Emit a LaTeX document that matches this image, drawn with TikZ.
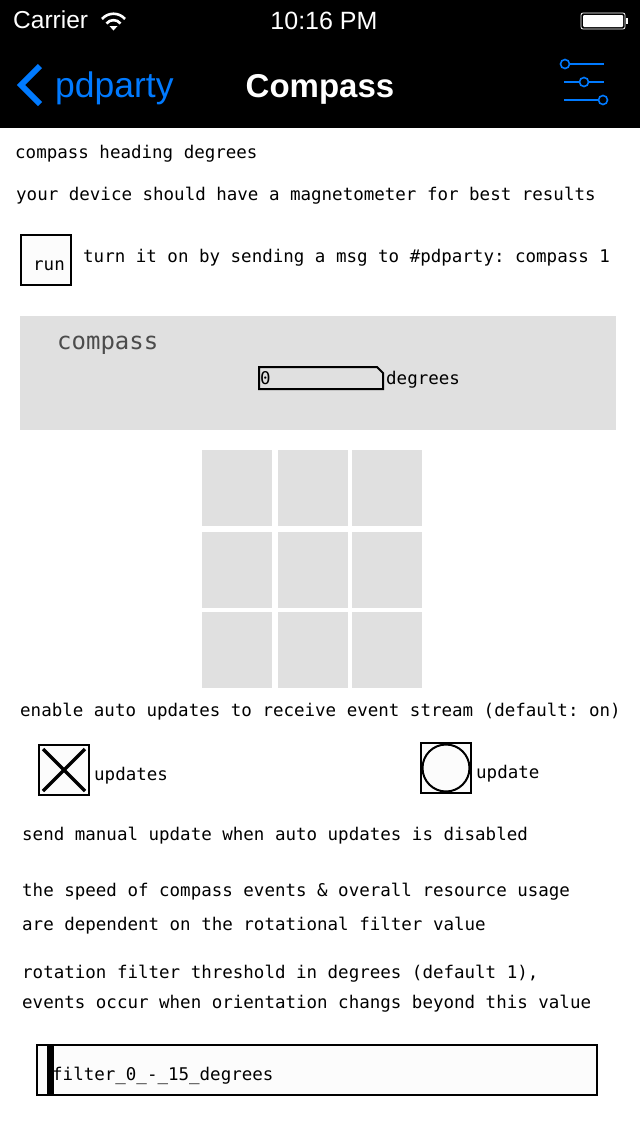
\documentclass[tikz,border=0pt]{standalone}
\usepackage{fontspec}
\setmainfont{Liberation Sans}
\newfontfamily\patchfont{DejaVu Sans Mono}
\frenchspacing
\definecolor{iosblue}{HTML}{007AFF}
\definecolor{cnvgrey}{HTML}{E0E0E0}
\definecolor{boxfill}{HTML}{FCFCFC}
\tikzset{
  patchtext/.style={anchor=base west,inner sep=0pt,font=\patchfont\fontsize{17.5}{20}\selectfont,text=black},
  gridcell/.style={fill=cnvgrey},
  guibox/.style={draw=black,line width=2pt,fill=boxfill},
  slidericon/.style={draw=iosblue,line width=1.6pt}
}
\begin{document}
\begin{tikzpicture}[x=1pt,y=-1pt]
  \useasboundingbox (0,0) rectangle (640,1136);
  \fill[white] (0,0) rectangle (640,1136);
  % navigation bar
  \fill[black] (0,0) rectangle (640,128);
  \node (carrier) at (13,28) [anchor=base west,inner sep=0pt,text=white,font=\fontsize{24.5}{26}\selectfont] {Carrier};
  \node (clock) at (324,29) [anchor=base,inner sep=0pt,text=white,font=\fontsize{25}{27}\selectfont] {10:16 PM};
  \draw[white,line width=2.6pt] (102,19) .. controls (108,12) and (119,12) .. (125,19);
  \draw[white,line width=2.6pt] (106.5,23.5) .. controls (110,19) and (117,19) .. (120.5,23.5);
  \fill[white] (109.5,26) -- (117.5,26) -- (113.5,30.5) -- cycle;
  \draw[white,line width=0.8pt,rounded corners=2pt] (581,13) rectangle (625,29);
  \fill[white,rounded corners=1pt] (583,15) rectangle (623,27);
  \fill[white] (626,18) rectangle (628,24);
  \draw[iosblue,line width=6pt] (40,66) -- (21,85) -- (40,104);
  \node (back) at (55,97) [anchor=base west,inner sep=0pt,text=iosblue,font=\fontsize{35.5}{38}\selectfont] {pdparty};
  \node (title) at (320,97) [anchor=base,inner sep=0pt,text=white,font=\bfseries\fontsize{33}{36}\selectfont] {Compass};
  \draw[slidericon] (570,64) -- (604,64);
  \draw[slidericon] (565,64) circle (4.5);
  \draw[slidericon] (564,82) -- (579,82) (589,82) -- (604,82);
  \draw[slidericon] (584,82) circle (4.5);
  \draw[slidericon] (564,100) -- (598,100);
  \draw[slidericon] (603,100) circle (4.5);
  % intro comments
  \node (heading) at (15,158) [patchtext] {compass heading degrees};
  \node (magnet) at (16,200) [patchtext] {your device should have a magnetometer for best results};
  \node (runbox) at (46,260) [guibox,minimum size=50pt,inner sep=0pt] {};
  \node (runlabel) at (33,270) [patchtext] {run};
  \node (turnon) at (83,262) [patchtext] {turn it on by sending a msg to \#pdparty: compass 1};
  % compass canvas
  \fill[cnvgrey] (20,316) rectangle (616,430);
  \node (canvaslabel) at (57,349) [patchtext,text=black!70,font=\patchfont\fontsize{24}{26}\selectfont] {compass};
  \draw[guibox,fill=none] (259,367) -- (377,367) -- (383,373) -- (383,389) -- (259,389) -- cycle;
  \node (numvalue) at (260,384) [patchtext] {0};
  \node (numlabel) at (386,384) [patchtext] {degrees};
  % grid
  \foreach \cx/\cw in {202/70,278/70,352/70}
    \foreach \cy/\ch in {450/76,532/76,612/76}
      \fill[gridcell] (\cx,\cy) rectangle ++(\cw,\ch);
  % updates
  \node (autoupd) at (20,716) [patchtext] {enable auto updates to receive event stream (default: on)};
  \node (togglebox) at (64,770) [guibox,minimum size=50pt,inner sep=0pt] {};
  \draw[black,line width=3.5pt] (43,749) -- (85,791) (85,749) -- (43,791);
  \node (togglelabel) at (94,780) [patchtext] {updates};
  \node (bangbox) at (446,768) [guibox,minimum size=50pt,inner sep=0pt] {};
  \draw[black,line width=2pt] (446,768) circle (23.5);
  \node (banglabel) at (476,778) [patchtext] {update};
  \node (manual) at (22,840) [patchtext] {send manual update when auto updates is disabled};
  \node (speed) at (22,896) [patchtext] {the speed of compass events \& overall resource usage};
  \node (depend) at (22,930) [patchtext] {are dependent on the rotational filter value};
  \node (rotation) at (22,978) [patchtext] {rotation filter threshold in degrees (default 1),};
  \node (events) at (22,1008) [patchtext] {events occur when orientation changs beyond this value};
  % slider
  \draw[guibox] (37,1045) rectangle (597,1095);
  \fill[black] (47,1045) rectangle (54,1095);
  \node (sliderlabel) at (52,1080) [patchtext] {filter\_0\_-\_15\_degrees};
\end{tikzpicture}
\end{document}
